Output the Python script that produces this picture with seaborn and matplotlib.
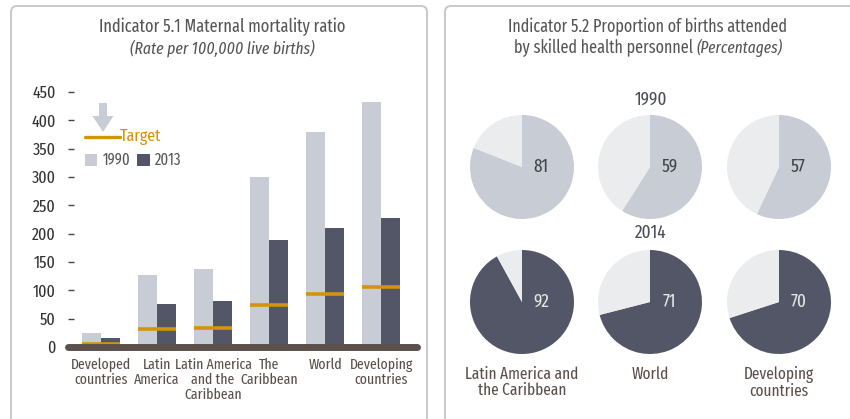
import numpy as np
import pandas as pd
import matplotlib
matplotlib.use("Agg")
import matplotlib.pyplot as plt
import seaborn as sns
from matplotlib.patches import FancyBboxPatch, FancyArrow, Rectangle

# ---------------- data ----------------
categories = ["Developed\ncountries", "Latin\nAmerica", "Latin America\nand the\nCaribbean",
              "The\nCaribbean", "World", "Developing\ncountries"]
mmr_1990 = [24, 127, 138, 299, 379, 432]
mmr_2013 = [15, 75, 82, 188, 209, 228]
mmr_target = [6, 32, 34, 74, 93, 106]
y_ticks = [0, 50, 100, 150, 200, 250, 300, 350, 400, 450]
years_bar = ["1990", "2013"]

pie_regions = ["Latin America and\nthe Caribbean", "World", "Developing\ncountries"]
births_1990 = [81, 59, 57]
births_2014 = [92, 71, 70]

# ---------------- style ----------------
sns.set_theme(style="white")
FONT = ["Fira Sans Extra Condensed", "Fira Sans Condensed", "Roboto", "DejaVu Sans"]
plt.rcParams["font.family"] = FONT

C1990 = "#c8ccd5"
C2013 = "#535667"
CREST = "#ebecee"
CTARGET = "#d4920f"
CBASE = "#5b504b"
CTXT = "#555555"
CLAB = "#5a4f4a"

W, H = 850, 419
fig = plt.figure(figsize=(W / 100, H / 100), dpi=100)

# overlay axes in pixel coordinates (y downwards)
ov = fig.add_axes([0, 0, 1, 1])
ov.set_xlim(0, W)
ov.set_ylim(H, 0)
ov.axis("off")
ov.patch.set_alpha(0)

def px_axes(x0, y0, x1, y1):
    return fig.add_axes([x0 / W, 1 - y1 / H, (x1 - x0) / W, (y1 - y0) / H])

# panel frames
for (x0, x1) in [(11, 427), (445, 870)]:
    ov.add_patch(FancyBboxPatch((x0, 6), x1 - x0, 440, boxstyle="round,pad=0,rounding_size=6",
                                fill=False, ec="#c9c9c9", lw=1.4, clip_on=False))

# ---------------- bar chart ----------------
ax = px_axes(68, 347 - 460 * 0.567, 417, 347)
df = pd.DataFrame({
    "category": categories * 2,
    "year": [years_bar[0]] * len(categories) + [years_bar[1]] * len(categories),
    "value": mmr_1990 + mmr_2013,
})
sns.barplot(data=df, x="category", y="value", hue="year", order=categories,
            palette={"1990": C1990, "2013": C2013}, width=0.68, linewidth=0,
            saturation=1, ax=ax, legend=False)
xs = np.arange(len(categories))
ax.hlines(mmr_target, xs - 0.34, xs + 0.34, color=CTARGET, lw=2.6, zorder=5)
ax.axhline(0, color=CBASE, lw=5, zorder=6, clip_on=False)
ax.set_xlim(-0.59, 5.64)
ax.set_ylim(0, 460)
ax.set_yticks(y_ticks)
ax.set_yticklabels([str(t) for t in y_ticks])
ax.set_xlabel("")
ax.set_ylabel("")
for s in ax.spines.values():
    s.set_visible(False)
ax.tick_params(axis="y", direction="in", length=4, width=1, color="#444444",
               pad=9, labelsize=12.5, labelcolor="#333333", left=True)
ax.tick_params(axis="x", length=0, pad=8, labelsize=10.8, labelcolor=CLAB)
for lab in ax.get_xticklabels():
    lab.set_linespacing(1.05)
    lab.set_va("top")
ax.patch.set_alpha(0)

# left titles
ov.text(222, 27, "Indicator 5.1 Maternal mortality ratio", ha="center", va="center",
        fontsize=12.8, color=CTXT)
ov.text(222, 48, "(Rate per 100,000 live births)", ha="center", va="center",
        fontsize=12.2, color=CTXT, style="italic")

# legend (manual)
ov.add_patch(FancyArrow(103, 103, 0, 29, width=8, head_width=21, head_length=16,
                        length_includes_head=True, color=C1990, lw=0))
ov.plot([85, 120], [137, 137], color=CTARGET, lw=2.4)
ov.text(120, 137, "Target", color=CTARGET, fontsize=12.5, ha="left", va="center")
ov.add_patch(Rectangle((85, 154), 12, 12, color=C1990, lw=0))
ov.text(103, 160, years_bar[0], color=CTXT, fontsize=11.5, ha="left", va="center")
ov.add_patch(Rectangle((137, 154), 13, 12, color=C2013, lw=0))
ov.text(155, 160, years_bar[1], color=CTXT, fontsize=11.5, ha="left", va="center")

# ---------------- pies ----------------
fig.canvas.draw()
renderer = fig.canvas.get_renderer()

ov.text(648, 27, "Indicator 5.2 Proportion of births attended", ha="center", va="center",
        fontsize=12.6, color=CTXT)
t1 = ov.text(0, 48, "by skilled health personnel ", ha="left", va="center", fontsize=12.6, color=CTXT)
t2 = ov.text(0, 48, "(Percentages)", ha="left", va="center", fontsize=12, color=CTXT, style="italic")
w1 = t1.get_window_extent(renderer).width
w2 = t2.get_window_extent(renderer).width
x_start = 648 - (w1 + w2) / 2
t1.set_x(x_start)
t2.set_x(x_start + w1)

ov.text(651, 100, "1990", ha="center", va="center", fontsize=13.5, color="#4a4e5c")
ov.text(651, 233, "2014", ha="center", va="center", fontsize=13.5, color="#4a4e5c")

pie_cx = [522, 650, 779]
R = 52
for row, (vals, cval, ctext, cy) in enumerate([(births_1990, C1990, "#444444", 167),
                                               (births_2014, C2013, "#e6e6e6", 302)]):
    for cx, v in zip(pie_cx, vals):
        pa = px_axes(cx - R, cy - R, cx + R, cy + R)
        pa.pie([v, 100 - v], colors=[cval, CREST], startangle=90, counterclock=False,
               radius=1, wedgeprops=dict(linewidth=0))
        pa.set_xlim(-1, 1)
        pa.set_ylim(-1, 1)
        pa.set_aspect("equal")
        pa.axis("off")
        pa.text(0.37, 0.0, str(v), ha="center", va="center", fontsize=13.5, color=ctext)

for cx, name in zip(pie_cx, pie_regions):
    ov.text(cx, 366, name, ha="center", va="top", fontsize=12, color=CLAB, linespacing=1.05)

fig.savefig("out.png", dpi=100)
